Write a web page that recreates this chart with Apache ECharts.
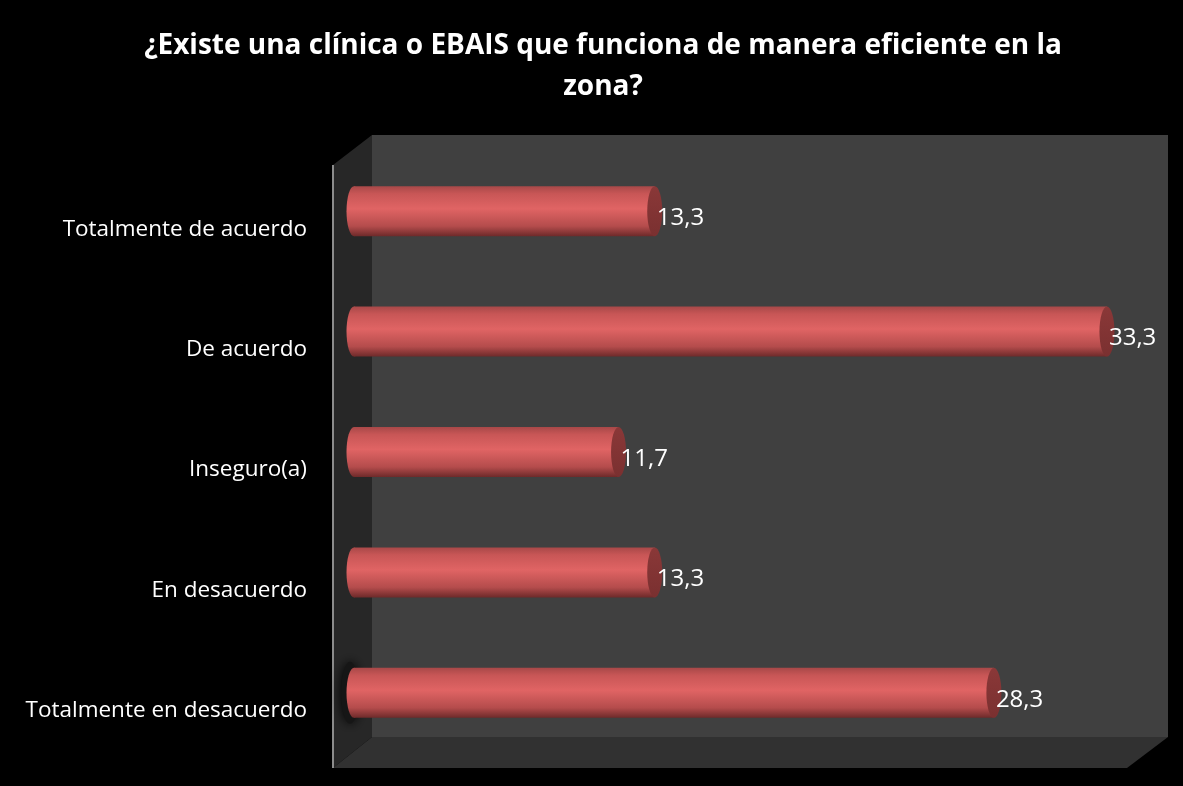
<!DOCTYPE html>
<html>
<head>
<meta charset="utf-8">
<title>EBAIS</title>
<script src="https://cdn.jsdelivr.net/npm/echarts@6/dist/echarts.min.js"></script>
<style>
  html, body { margin: 0; padding: 0; background: #000; }
  #main { width: 1183px; height: 786px; }
</style>
</head>
<body>
<div id="main"></div>
<script>
// datos
var categorias = ['Totalmente de acuerdo', 'De acuerdo', 'Inseguro(a)', 'En desacuerdo', 'Totalmente en desacuerdo'];
var porcentajes = [13.3, 33.3, 11.7, 13.3, 28.3];

var chart = echarts.init(document.getElementById('main'));

// cilindro: cuerpo + tapa izquierda + tapa derecha + etiqueta
function cilindro(params, api) {
  var valor = api.value(0);
  var cat = api.value(1);
  var ini = api.coord([0, cat]);
  var fin = api.coord([valor, cat]);
  var h = api.size([0, 1])[1] * 0.415;
  var r = h / 2;
  var rx = 7.5;

  var cuerpo = new echarts.graphic.LinearGradient(0, 0, 0, 1, [
    { offset: 0, color: '#a84848' },
    { offset: 0.15, color: '#c85656' },
    { offset: 0.45, color: '#e06464' },
    { offset: 0.8, color: '#b44c4c' },
    { offset: 1, color: '#6e2a2a' }
  ]);
  var tapa = new echarts.graphic.LinearGradient(0, 0, 0, 1, [
    { offset: 0, color: '#8a3838' },
    { offset: 1, color: '#7a3030' }
  ]);

  var hijos = [];
  // sombra de la última barra sobre la pared lateral
  if (params.dataIndex === categorias.length - 1) {
    hijos.push({
      type: 'circle',
      x: ini[0] - 4, y: ini[1], scaleX: 9 / (r + 6),
      shape: { cx: 0, cy: 0, r: r + 6 },
      style: { fill: '#161616', shadowBlur: 12, shadowColor: '#000000' }
    });
  }
  hijos.push(
    {
      type: 'circle',
      x: ini[0], y: ini[1], scaleX: rx / r,
      shape: { cx: 0, cy: 0, r: r },
      style: { fill: cuerpo }
    },
    {
      type: 'rect',
      shape: { x: ini[0], y: ini[1] - r, width: fin[0] - ini[0], height: h },
      style: { fill: cuerpo }
    },
    {
      type: 'circle',
      x: fin[0], y: fin[1], scaleX: rx / r,
      shape: { cx: 0, cy: 0, r: r },
      style: { fill: tapa }
    },
    {
      type: 'text',
      x: fin[0] + 2, y: fin[1] + 7,
      style: {
        text: String(valor).replace('.', ','),
        fill: '#ffffff',
        font: '24px "Open Sans"',
        align: 'left',
        verticalAlign: 'middle'
      }
    }
  );
  return { type: 'group', children: hijos };
}

var datos = porcentajes.map(function (v, i) { return [v, i]; });

var option = {
  backgroundColor: '#000000',
  animation: false,
  title: {
    text: '¿Existe una clínica o EBAIS que funciona de manera eficiente en la\nzona?',
    left: 598,
    textAlign: 'center',
    top: 21,
    textStyle: {
      color: '#ffffff',
      fontFamily: 'Open Sans',
      fontWeight: 'bold',
      fontSize: 28,
      lineHeight: 41
    }
  },
  // paredes 3D del área de trazado
  graphic: [
    { type: 'polygon', z: -10, shape: { points: [[372, 135], [1168, 135], [1168, 737], [372, 737]] }, style: { fill: '#404040' } },
    { type: 'polygon', z: -10, shape: { points: [[333, 165], [372, 135], [372, 737], [333, 768]] }, style: { fill: '#272727' } },
    { type: 'polygon', z: -10, shape: { points: [[333, 768], [372, 737], [1168, 737], [1127, 768]] }, style: { fill: '#313131' } },
    { type: 'line', z: -9, shape: { x1: 333, y1: 165, x2: 333, y2: 768 }, style: { stroke: '#8c8c8c', lineWidth: 2 } }
  ],
  grid: {
    left: 354,
    right: 15,
    top: 151,
    bottom: 33
  },
  xAxis: {
    type: 'value',
    min: 0,
    max: 36,
    show: false
  },
  yAxis: {
    type: 'category',
    data: categorias,
    inverse: true,
    axisLine: { show: false },
    axisTick: { show: false },
    splitLine: { show: false },
    axisLabel: {
      margin: 47,
      formatter: function (v) { return '{a|' + v + '}'; },
      rich: {
        a: {
          color: '#ffffff',
          fontFamily: 'Open Sans',
          fontSize: 22.5,
          padding: [36, 0, 0, 0]
        }
      }
    }
  },
  series: [{
    type: 'custom',
    renderItem: cilindro,
    encode: { x: 0, y: 1 },
    data: datos
  }]
};

chart.setOption(option);
</script>
</body>
</html>
